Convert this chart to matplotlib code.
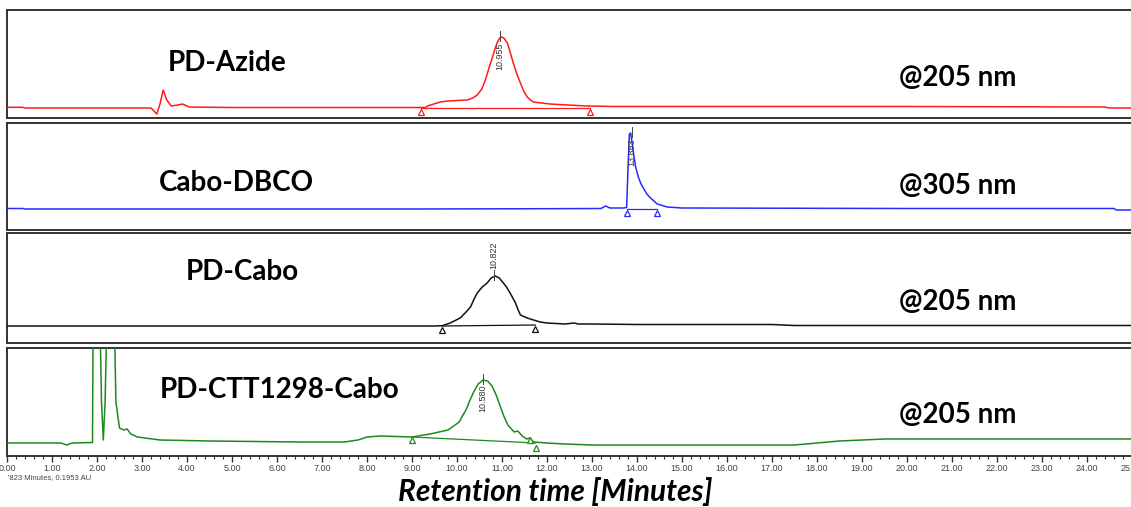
import matplotlib
matplotlib.use('Agg')
import matplotlib.pyplot as plt
from matplotlib.ticker import MultipleLocator, FormatStrFormatter

W, H = 1131, 507

# ---- data: (time [min], signal above baseline, arbitrary units) ----
azide_t = [0, 0.35, 0.4, 3.2, 3.33, 3.40, 3.47, 3.55, 3.65, 3.8, 3.9, 4.05, 5, 8, 9.3, 9.34, 9.45,
           9.63, 9.8, 10.0, 10.23, 10.35, 10.45, 10.55, 10.63, 10.71, 10.79, 10.85, 10.9, 10.95,
           10.99, 11.04, 11.12, 11.18, 11.25, 11.33, 11.41, 11.48, 11.56, 11.63, 11.7, 12.07,
           12.45, 12.9, 13.5, 20, 24.4, 24.5, 25]
azide_y = [0.7, 0.7, 0, 0, -6, 4, 18, 8, 2, 3, 4, 1, 0.5, 0.5, 0.5, 2, 3.5,
           6, 7, 7.5, 8, 10, 13, 19, 28, 40, 51, 60, 66, 70,
           71, 70, 65, 56, 45, 34, 25, 17, 11, 8, 6, 4,
           3, 2, 1.5, 1.5, 1, 0, 0]
azide_marks = [9.2, 12.96]
azide_mark_y = [-3.5, -3.5]
azide_rt = 10.955

dbco_t = [0, 0.35, 0.4, 5, 9, 12, 13.2, 13.3, 13.4, 13.7, 13.77, 13.8, 13.83, 13.86, 13.92,
          13.97, 14.03, 14.08, 14.14, 14.22, 14.3, 14.45, 14.67, 15, 20, 24.6, 24.65, 25]
dbco_y = [0.5, 0.5, 0, 0, 0, 0.3, 0.5, 3, 1, 1, 1.5, 40, 75, 76, 56,
          42, 32, 26, 21, 15, 11, 5, 2, 1, 0.5, 0.5, -1, -1]
dbco_marks = [13.78, 14.45]
dbco_mark_y = [-3.5, -3.5]
dbco_rt = 13.883

cabo_t = [0, 9.5, 9.67, 9.85, 10.07, 10.18, 10.3, 10.38, 10.45, 10.56, 10.67, 10.76, 10.85,
          10.94, 11.03, 11.1, 11.18, 11.24, 11.3, 11.36, 11.41, 11.56, 11.7, 11.85, 12.0, 12.4,
          12.6, 12.7, 13, 14, 17, 17.5, 25]
cabo_y = [0, 0, 0.3, 3, 8, 13, 19, 27, 33, 39, 43, 48, 50,
          48, 43, 39, 33, 28, 23, 16, 11, 8, 6, 4, 3, 2,
          3, 2, 2, 1.5, 1.5, 0.5, 0.5]
cabo_marks = [9.67, 11.74]
cabo_mark_y = [-3.5, -3.0]
cabo_rt = 10.822

ctt_t = [0, 1.2, 1.33, 1.45, 1.9, 1.92, 2.04, 2.1, 2.14, 2.18, 2.25, 2.36, 2.42, 2.5, 2.6, 2.67,
         2.75, 2.9, 3.4, 4.5, 6.5, 7.5, 7.8, 8.0, 8.3, 9.0, 9.4, 9.8, 10.05, 10.12, 10.2, 10.28,
         10.37, 10.47, 10.58, 10.68, 10.78, 10.87, 10.95, 11.04, 11.13, 11.27, 11.35, 11.45,
         11.55, 11.62, 11.7, 12.0, 12.4, 13, 17.5, 18.0, 18.5, 19.5, 22, 25]
ctt_y = [-1, -1, -3, -1, -0.5, 186, 186, 40, 2, 40, 186, 186, 40, 14, 12, 13,
         8, 5, 2, 1, 0, 0, 2, 5, 6, 5, 8, 12, 20, 26, 32, 41,
         50, 58, 62, 61, 56, 47, 37, 26, 17, 10, 11, 6,
         3, 4, 0, -1, -2, -3, -3, -1, 1, 3, 3, 3]
ctt_marks = [9.0, 11.62, 11.75]
ctt_mark_y = [2, 2.5, -5.5]
ctt_rt = 10.580

names = ['PD-Azide', 'Cabo-DBCO', 'PD-Cabo', 'PD-CTT1298-Cabo']
waves = ['@205 nm', '@305 nm', '@205 nm', '@205 nm']

# panel boxes in pixels (top, bottom, baseline)
boxes = [(10, 118, 108), (123, 230, 209), (233, 343, 326), (348, 456, 442)]
colors = ['#ff1a1a', '#2a2aff', '#111111', '#1e8a1e']
name_pos = [(227, 63), (236, 183), (242, 272), (280, 390)]
wave_y = [78, 186, 302, 415]

traces = [(azide_t, azide_y, azide_marks, azide_mark_y, azide_rt, 'in', (0, 0)),
          (dbco_t, dbco_y, dbco_marks, dbco_mark_y, dbco_rt, 'in', (0, 0)),
          (cabo_t, cabo_y, cabo_marks, cabo_mark_y, cabo_rt, 'above', (0, 1)),
          (ctt_t, ctt_y, ctt_marks, ctt_mark_y, ctt_rt, 'in', (5, -1))]

fig = plt.figure(figsize=(W / 100, H / 100), dpi=100)

x0, x1 = 7, 1132
for i, (top, bot, base) in enumerate(boxes):
    ax = fig.add_axes([x0 / W, 1 - bot / H, (x1 - x0) / W, (bot - top) / H])
    t, y, marks, mark_y, rt, lab, bl = traces[i]
    c = colors[i]
    ax.plot(t, y, color=c, lw=1.1, zorder=3)
    ax.set_xlim(0, 25)
    ax.set_ylim(-(bot - base), base - top)
    # integration baseline + start/end markers
    ax.plot([marks[0], marks[-1]], list(bl), color=c, lw=0.9, zorder=2)
    ax.plot(marks, mark_y, ls='none', marker='^', ms=4.5, mfc='white', mec=c, mew=0.9, zorder=4)
    # retention time label
    ypk = max(yy for tt, yy in zip(t, y) if abs(tt - rt) < 0.3)
    ax.plot([rt, rt], [ypk - 4, ypk + 6], color='#444444', lw=0.7, zorder=4)
    if lab == 'above':
        ax.text(rt, ypk + 7, '%.3f' % rt, rotation=90, ha='center', va='bottom', fontsize=6.5,
                color='#333333', family='Liberation Sans')
    else:
        ax.text(rt, ypk - 5, '%.3f' % rt, rotation=90, ha='center', va='top', fontsize=6.5,
                color='#333333', family='Liberation Sans')
    for s in ax.spines.values():
        s.set_color('#333333')
        s.set_linewidth(1.4)
    ax.set_yticks([])
    if i < 3:
        ax.set_xticks([])
    else:
        ax.xaxis.set_major_locator(MultipleLocator(1))
        ax.xaxis.set_minor_locator(MultipleLocator(0.2))
        ax.xaxis.set_major_formatter(FormatStrFormatter('%.2f'))
        ax.tick_params(axis='x', which='major', length=4, width=1, color='#333333', labelsize=6.5,
                       labelcolor='#444444', pad=1.5)
        ax.tick_params(axis='x', which='minor', length=2, width=0.8, color='#333333')
        for lb in ax.get_xticklabels():
            lb.set_family('Liberation Sans')

    fig.text(name_pos[i][0] / W, 1 - name_pos[i][1] / H, names[i], ha='center', va='center',
             fontsize=20, fontweight='bold', family='Lato', color='black')
    fig.text(958 / W, 1 - wave_y[i] / H, waves[i], ha='center', va='center',
             fontsize=20, fontweight='bold', family='Lato', color='black')

fig.text(8 / W, 1 - 478 / H, "'823 Minutes, 0.1953 AU", ha='left', va='center', fontsize=5.5,
         family='Liberation Sans', color='#444444')
fig.text(555 / W, 1 - 492 / H, 'Retention time [Minutes]', ha='center', va='center',
         fontsize=21.5, fontweight='bold', fontstyle='italic', family='Lato', color='black')

fig.savefig('out.png', dpi=100)
